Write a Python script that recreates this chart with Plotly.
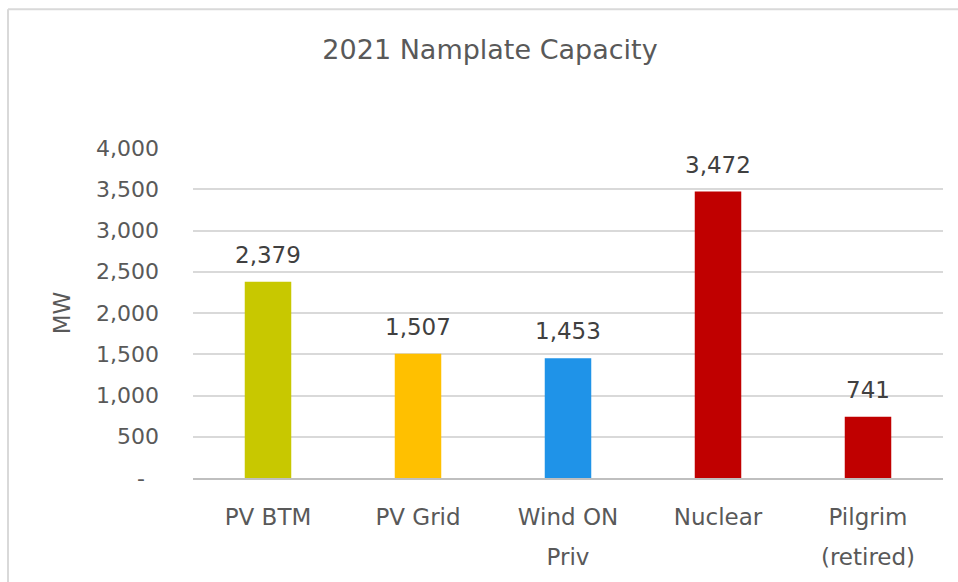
import plotly.graph_objects as go

# Nameplate capacity by resource, MW
categories = ["PV BTM", "PV Grid", "Wind ON<br>Priv", "Nuclear", "Pilgrim<br>(retired)"]
capacity_mw = [2379, 1507, 1453, 3472, 741]
bar_colors = ["#C8C800", "#FFC000", "#1F93E8", "#C00000", "#C00000"]

y_tick_vals = [0, 500, 1000, 1500, 2000, 2500, 3000, 3500, 4000]
y_tick_text = ["-\u00a0\u00a0", "500", "1,000", "1,500", "2,000", "2,500", "3,000", "3,500", "4,000"]

FONT = "'DejaVu Sans', sans-serif"
GREY = "#595959"
LABEL_SIZE = 23

W, H = 958, 582
L, R, T, B = 193, 15, 148, 101
pw, ph = W - L - R, H - T - B


def sized(label, px):
    # wrap each line so the row spacing follows the larger base tick font
    return "<br>".join(f"<span style='font-size:{px}px'>{part}</span>" for part in label.split("<br>"))


fig = go.Figure(
    go.Bar(
        x=categories,
        y=capacity_mw,
        marker=dict(color=bar_colors, line=dict(width=0)),
        width=0.31,
        hoverinfo="x+y",
    )
)

# value labels above each bar
for cat, val in zip(categories, capacity_mw):
    fig.add_annotation(
        x=cat, y=val, text=f"{val:,}",
        showarrow=False, yanchor="bottom", yshift=12,
        font=dict(family=FONT, size=LABEL_SIZE, color="#404040"),
    )

# light outer frame of the chart area (left and top edges)
frame_x0 = (8 - L) / pw
frame_y1 = (H - 8 - B) / ph
frame_far_x = (W + 10 - L) / pw
frame_far_y = -(B + 10) / ph
for x0, y0, x1, y1 in [(frame_x0, frame_far_y, frame_x0, frame_y1),
                       (frame_x0, frame_y1, frame_far_x, frame_y1)]:
    fig.add_shape(
        type="line", xref="paper", yref="paper",
        x0=x0, y0=y0, x1=x1, y1=y1,
        line=dict(color="#D9D9D9", width=2), layer="below",
    )

fig.update_layout(
    width=W, height=H,
    margin=dict(l=L, r=R, t=T, b=B, pad=0),
    paper_bgcolor="white", plot_bgcolor="white",
    showlegend=False,
    title=dict(
        text="2021 Namplate Capacity",
        x=490 / W, xanchor="center",
        y=1 - 50 / H, yanchor="middle",
        font=dict(family=FONT, size=27, color=GREY),
    ),
    font=dict(family=FONT, color=GREY),
)

fig.update_yaxes(
    range=[0, 4000],
    tickvals=y_tick_vals, ticktext=y_tick_text,
    tickfont=dict(family=FONT, size=22, color=GREY),
    showgrid=True, gridcolor="#D9D9D9", gridwidth=1.5,
    zeroline=False, showline=False,
    ticks="", ticklabelstandoff=33,
    title=dict(text="MW", font=dict(family=FONT, size=23, color=GREY), standoff=18),
)

fig.update_xaxes(
    tickmode="array",
    tickvals=categories,
    ticktext=[sized(c, LABEL_SIZE) for c in categories],
    tickfont=dict(family=FONT, size=31, color=GREY),
    showline=True, linecolor="#BFBFBF", linewidth=1.5,
    ticks="", ticklabelstandoff=8,
    showgrid=False,
)

fig.write_html("out.html")
